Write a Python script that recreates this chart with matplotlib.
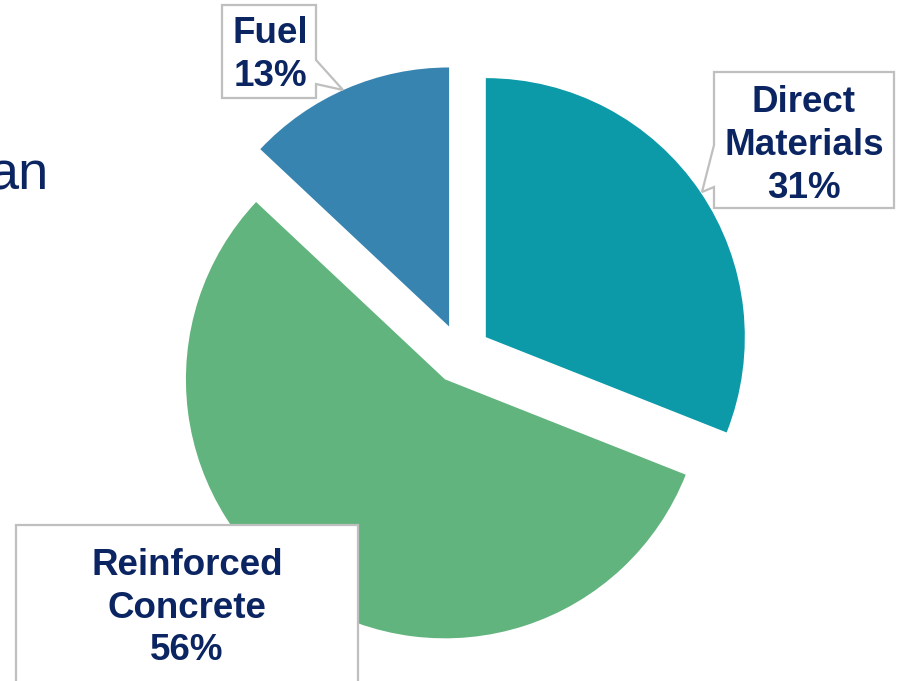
import matplotlib
matplotlib.use("Agg")
import matplotlib.pyplot as plt
from matplotlib.patches import Polygon

# data
labels = ["Direct\nMaterials", "Reinforced\nConcrete", "Fuel"]
shares = [31, 56, 13]
colors = ["#0C99A8", "#61B47D", "#3884B1"]

W, H = 899, 681
navy = "#0B2462"
edge = "#BFBFBF"


def fy(y):
    # pixel row (top-down) -> data y (bottom-up)
    return H - y


fig = plt.figure(figsize=(W / 100, H / 100), dpi=100)
ax = fig.add_axes([0, 0, 1, 1])

# explode is in data units here (pixels), not a fraction of the radius
ax.pie(shares, colors=colors, startangle=90, counterclock=False,
       explode=[30] * 3, radius=259, center=(461, fy(354)),
       wedgeprops=dict(linewidth=0))

ax.set_xlim(0, W)
ax.set_ylim(0, H)
ax.set_aspect("equal")
ax.axis("off")

# callout boxes (outline in pixel rows, tail included)
boxes = {
    "Fuel": [(222, 5), (316, 5), (316, 60), (343, 90), (316, 84), (316, 98), (222, 98)],
    "Direct\nMaterials": [(714, 72), (894, 72), (894, 208), (714, 208), (714, 187), (702, 192), (714, 145)],
    "Reinforced\nConcrete": [(16, 525), (358, 525), (358, 690), (16, 690)],
}
baselines = {
    "Fuel": (270, [43, 86]),
    "Direct\nMaterials": (804, [112, 155, 198]),
    "Reinforced\nConcrete": (187, [575, 618, 660]),
}

for lab, val in zip(labels, shares):
    pts = [(x, fy(y)) for x, y in boxes[lab]]
    ax.add_patch(Polygon(pts, closed=True, facecolor="white", edgecolor=edge,
                         linewidth=1.6, zorder=5))
    lines = lab.split("\n") + [f"{val}%"]
    cx, ys = baselines[lab]
    for line, y in zip(lines, ys):
        ax.text(cx, fy(y), line, ha="center", va="baseline", fontsize=26.5,
                fontweight="bold", color=navy, family="Liberation Sans", zorder=6)

# cut-off slide text on the left (cropped in the reference as well)
ax.text(49, fy(190), "an", ha="right", va="baseline", fontsize=39,
        color=navy, family="Liberation Sans")

fig.savefig("out.png", dpi=100)
